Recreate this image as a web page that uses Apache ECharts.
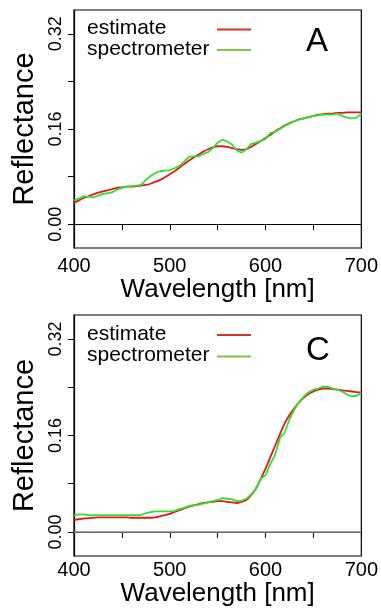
<!DOCTYPE html>
<html>
<head>
<meta charset="utf-8">
<script src="https://cdn.jsdelivr.net/npm/echarts@6/dist/echarts.min.js"></script>
<style>
html,body{margin:0;padding:0;background:#fff;}
#chart{width:381px;height:610px;}
</style>
</head>
<body>
<div id="chart"></div>
<script>
// ---------- data ----------
const wavelengths = [400,405,410,415,420,425,430,435,440,445,450,455,460,465,470,475,480,485,490,495,500,505,510,515,520,525,530,535,540,545,550,555,560,565,570,575,580,585,590,595,600,605,610,615,620,625,630,635,640,645,650,655,660,665,670,675,680,685,690,695,700];

// Panel A
const estimateA = [0.036,0.040,0.044,0.047,0.050,0.053,0.055,0.057,0.059,0.061,0.062,0.063,0.063,0.064,0.065,0.066,0.068,0.071,0.0745,0.079,0.084,0.089,0.095,0.101,0.107,0.112,0.117,0.122,0.126,0.129,0.131,0.131,0.130,0.128,0.126,0.125,0.126,0.130,0.135,0.140,0.145,0.150,0.156,0.161,0.166,0.170,0.173,0.176,0.178,0.180,0.182,0.184,0.185,0.186,0.186,0.187,0.187,0.188,0.188,0.188,0.188];
const spectrometerA = [0.040,0.043,0.047,0.046,0.045,0.048,0.051,0.052,0.054,0.058,0.061,0.063,0.064,0.065,0.066,0.074,0.081,0.086,0.089,0.090,0.091,0.094,0.098,0.105,0.113,0.114,0.114,0.118,0.121,0.128,0.137,0.142,0.139,0.134,0.124,0.120,0.126,0.135,0.137,0.140,0.143,0.153,0.155,0.160,0.165,0.169,0.173,0.176,0.178,0.180,0.182,0.183,0.184,0.184,0.184,0.186,0.182,0.179,0.178,0.179,0.186];

// Panel C
const estimateC = [0.020,0.021,0.022,0.023,0.0235,0.024,0.024,0.024,0.024,0.024,0.024,0.024,0.0235,0.0235,0.0235,0.0235,0.0235,0.024,0.026,0.028,0.030,0.033,0.036,0.039,0.042,0.044,0.046,0.048,0.049,0.050,0.051,0.051,0.050,0.049,0.048,0.050,0.053,0.061,0.072,0.088,0.105,0.124,0.143,0.162,0.180,0.194,0.205,0.215,0.223,0.229,0.233,0.236,0.238,0.238,0.237,0.236,0.235,0.234,0.233,0.232,0.231];
const spectrometerC = [0.027,0.029,0.029,0.028,0.028,0.028,0.028,0.028,0.028,0.028,0.028,0.028,0.028,0.028,0.028,0.031,0.033,0.034,0.034,0.034,0.034,0.035,0.038,0.040,0.043,0.044,0.045,0.047,0.049,0.051,0.053,0.056,0.055,0.054,0.051,0.052,0.055,0.062,0.072,0.088,0.094,0.113,0.128,0.156,0.165,0.187,0.203,0.215,0.225,0.232,0.236,0.238,0.241,0.241,0.238,0.236,0.233,0.228,0.225,0.226,0.231];

const seriesNames = ['estimate','spectrometer'];
const panelLetters = ['A','C'];
const xTickLabels = [400,500,600,700];
const xTickValues = [400,450,500,550,600,650,700];
const yTickValues = [0,0.08,0.16,0.24,0.32];
const yLabelValues = [0,0.16,0.32];

// ---------- styling ----------
const FONT = 'Liberation Sans, Arial, Helvetica, sans-serif';
const RED = '#e8141c';
const GREEN = '#2ee22e';
const grids = [
  {left:74, top:10, width:288, height:238},
  {left:74, top:315, width:288, height:241}
];
const zeroColors = ['#000000', '#8a8a8a'];
const xLabelMargins = [8, 4];
const xNameGaps = [27, 22];

function pairs(vals){ return wavelengths.map((w,i)=>[w, vals[i]]); }

const option = {
  animation:false,
  backgroundColor:'#ffffff',
  grid: grids.map(g=>Object.assign({show:true, borderColor:'#000', borderWidth:1.2, backgroundColor:'transparent'}, g)),
  xAxis: grids.map((g,i)=>({
    type:'value', gridIndex:i, min:400, max:700, interval:50,
    axisLine:{show:true, lineStyle:{color:'#000', width:1.2}},
    axisTick:{show:true, length:6, lineStyle:{color:'#000', width:1}, customValues:xTickValues},
    axisLabel:{show:true, customValues:xTickLabels, color:'#000', fontSize:20, fontFamily:FONT, margin:xLabelMargins[i]},
    splitLine:{show:false},
    name:'Wavelength [nm]', nameLocation:'middle', nameGap:xNameGaps[i],
    nameTextStyle:{color:'#000', fontSize:26, fontFamily:FONT}
  })),
  yAxis: grids.map((g,i)=>({
    type:'value', gridIndex:i, min:-0.04, max:0.36, interval:0.04,
    axisLine:{show:true, lineStyle:{color:'#000', width:1.2}},
    axisTick:{show:true, length:6, lineStyle:{color:'#000', width:1}, customValues:yTickValues},
    axisLabel:{show:true, customValues:yLabelValues, rotate:90, color:'#000', fontSize:18, fontFamily:FONT, margin:9,
      formatter:v=>Number(v).toFixed(2)},
    splitLine:{show:false},
    name:'Reflectance', nameLocation:'middle', nameGap:31, nameRotate:90,
    nameTextStyle:{color:'#000', fontSize:29, fontFamily:FONT}
  })),
  series: [
    {name:seriesNames[0], type:'line', xAxisIndex:0, yAxisIndex:0, data:pairs(estimateA), showSymbol:false, smooth:0.3,
      lineStyle:{color:RED, width:1.8}, itemStyle:{color:RED},
      markLine:{silent:true, symbol:'none', label:{show:false}, lineStyle:{color:zeroColors[0], width:1, type:'solid'}, data:[{yAxis:0}]}},
    {name:seriesNames[1], type:'line', xAxisIndex:0, yAxisIndex:0, data:pairs(spectrometerA), showSymbol:false,
      lineStyle:{color:GREEN, width:1.8}, itemStyle:{color:GREEN}},
    {name:seriesNames[0], type:'line', xAxisIndex:1, yAxisIndex:1, data:pairs(estimateC), showSymbol:false, smooth:0.3,
      lineStyle:{color:RED, width:1.8}, itemStyle:{color:RED},
      markLine:{silent:true, symbol:'none', label:{show:false}, lineStyle:{color:zeroColors[1], width:1.5, type:'solid'}, data:[{yAxis:0}]}},
    {name:seriesNames[1], type:'line', xAxisIndex:1, yAxisIndex:1, data:pairs(spectrometerC), showSymbol:false,
      lineStyle:{color:GREEN, width:1.8}, itemStyle:{color:GREEN}}
  ],
  graphic: []
};

// legends and panel letters (drawn as text + short lines inside each plot)
const legendRows = [[30, 50.5], [335.5, 357]];
const legendColors = ['#d8302a', '#7fc646'];
const letterY = [42, 351];
for (let p=0;p<2;p++){
  for (let k=0;k<2;k++){
    option.graphic.push({type:'text', left:87, top:legendRows[p][k]-12, style:{text:seriesNames[k], fill:'#000', fontSize:21, fontFamily:FONT}, z:10});
    option.graphic.push({type:'line', shape:{x1:217, y1:legendRows[p][k]-0.5, x2:251, y2:legendRows[p][k]-0.5}, style:{stroke:legendColors[k], lineWidth:2}, z:10});
  }
  option.graphic.push({type:'text', left:306, top:letterY[p]-17, style:{text:panelLetters[p], fill:'#000', fontSize:33, fontFamily:FONT}, z:10});
}

const chart = echarts.init(document.getElementById('chart'), null, {renderer:'canvas'});
chart.setOption(option);
</script>
</body>
</html>
